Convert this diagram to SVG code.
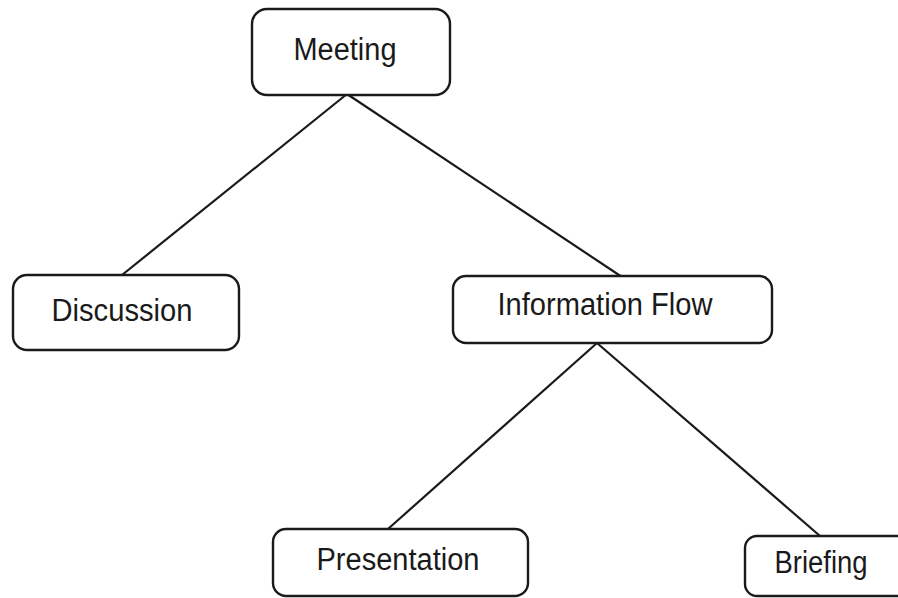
<svg xmlns="http://www.w3.org/2000/svg" width="898" height="598" viewBox="0 0 898 598">
  <style>
    .box { fill: #ffffff; stroke: #1a1a1a; stroke-width: 2.4; }
    .label { font-family: "Liberation Sans", Arial, sans-serif; font-size: 31px; fill: #1a1a1a; }
    .edge { stroke: #1a1a1a; stroke-width: 2.2; fill: none; }
  </style>
  <rect width="898" height="598" fill="#ffffff"/>

  <!-- tree branches -->
  <g id="connectors">
    <line class="edge" x1="347" y1="94" x2="122" y2="275"/>
    <line class="edge" x1="347" y1="94" x2="622" y2="277"/>
    <line class="edge" x1="597" y1="343" x2="388" y2="529"/>
    <line class="edge" x1="597" y1="343" x2="820" y2="536"/>
  </g>

  <g id="meeting">
    <rect class="box" x="252" y="9" width="198" height="86" rx="15"/>
    <text class="label" x="345" y="60" text-anchor="middle" textLength="103" lengthAdjust="spacingAndGlyphs">Meeting</text>
  </g>

  <g id="discussion">
    <rect class="box" x="13" y="275" width="226" height="75" rx="14"/>
    <text class="label" x="122" y="321" text-anchor="middle" textLength="141" lengthAdjust="spacingAndGlyphs">Discussion</text>
  </g>

  <g id="information-flow">
    <rect class="box" x="453" y="276" width="319" height="67" rx="13"/>
    <text class="label" x="605" y="315" text-anchor="middle" textLength="215" lengthAdjust="spacingAndGlyphs">Information Flow</text>
  </g>

  <g id="presentation">
    <rect class="box" x="273" y="529" width="255" height="67" rx="13"/>
    <text class="label" x="398" y="570" text-anchor="middle" textLength="163" lengthAdjust="spacingAndGlyphs">Presentation</text>
  </g>

  <g id="briefing">
    <rect class="box" x="745" y="536" width="175" height="60" rx="12"/>
    <text class="label" x="821" y="573" text-anchor="middle" textLength="93" lengthAdjust="spacingAndGlyphs">Briefing</text>
  </g>
</svg>
